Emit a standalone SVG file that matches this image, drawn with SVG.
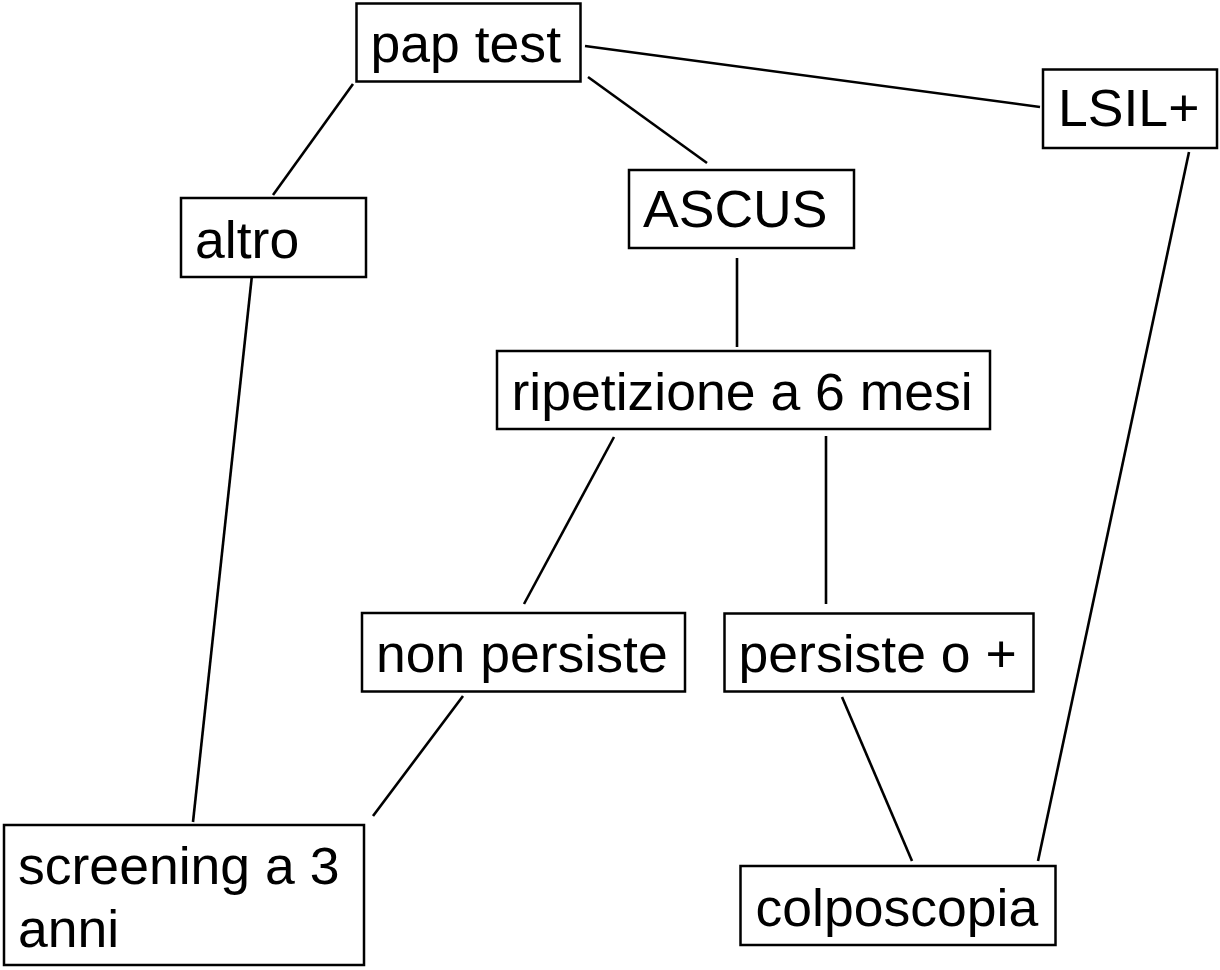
<svg xmlns="http://www.w3.org/2000/svg" width="1220" height="970" viewBox="0 0 1220 970">
<style>
.box{fill:#fff;stroke:#000;stroke-width:2.5}
.lbl{font-family:"Liberation Sans",Arial,sans-serif;font-size:51px;fill:#000}
.edge{stroke:#000;stroke-width:2.6;fill:none}
</style>
<rect width="1220" height="970" fill="#fff"/>
<g id="connectors">
<line class="edge" x1="353" y1="84" x2="273" y2="195"/>
<line class="edge" x1="588" y1="77" x2="707" y2="163"/>
<line class="edge" x1="585" y1="46" x2="1040" y2="107"/>
<line class="edge" x1="252" y1="275" x2="193" y2="822"/>
<line class="edge" x1="737" y1="258" x2="737" y2="347"/>
<line class="edge" x1="614" y1="437" x2="524" y2="604"/>
<line class="edge" x1="826" y1="436" x2="826" y2="604"/>
<line class="edge" x1="463" y1="696" x2="373" y2="816"/>
<line class="edge" x1="842" y1="697" x2="912" y2="861"/>
<line class="edge" x1="1189" y1="152" x2="1038" y2="861"/>
</g>
<g id="pap-test">
<rect class="box" x="356.5" y="3.5" width="224" height="78"/>
<text class="lbl" transform="matrix(1.05 0 0 1 370.5 62)">pap test</text>
</g>
<g id="lsil">
<rect class="box" x="1043" y="69.5" width="174" height="78.5"/>
<text class="lbl" transform="matrix(1.05 0 0 1 1058 125.5)">LSIL+</text>
</g>
<g id="altro">
<rect class="box" x="181" y="198" width="185" height="79"/>
<text class="lbl" transform="matrix(1.05 0 0 1 195 257.5)">altro</text>
</g>
<g id="ascus">
<rect class="box" x="629" y="170" width="225" height="78"/>
<text class="lbl" transform="matrix(1.05 0 0 1 643 226.5)">ASCUS</text>
</g>
<g id="ripetizione">
<rect class="box" x="497" y="351" width="493" height="78"/>
<text class="lbl" transform="matrix(1.05 0 0 1 511.5 410)">ripetizione a 6 mesi</text>
</g>
<g id="non-persiste">
<rect class="box" x="362" y="613" width="323" height="78.5"/>
<text class="lbl" transform="matrix(1.05 0 0 1 376 672)">non persiste</text>
</g>
<g id="persiste">
<rect class="box" x="724.5" y="613.5" width="309" height="78"/>
<text class="lbl" transform="matrix(1.05 0 0 1 738.5 672)">persiste o +</text>
</g>
<g id="screening">
<rect class="box" x="4" y="825" width="360" height="140"/>
<text class="lbl" transform="matrix(1.05 0 0 1 18 884)">screening a 3</text>
<text class="lbl" transform="matrix(1.05 0 0 1 18 947)">anni</text>
</g>
<g id="colposcopia">
<rect class="box" x="740.5" y="866" width="315" height="79"/>
<text class="lbl" transform="matrix(1.05 0 0 1 755.5 925.5)">colposcopia</text>
</g>
</svg>
